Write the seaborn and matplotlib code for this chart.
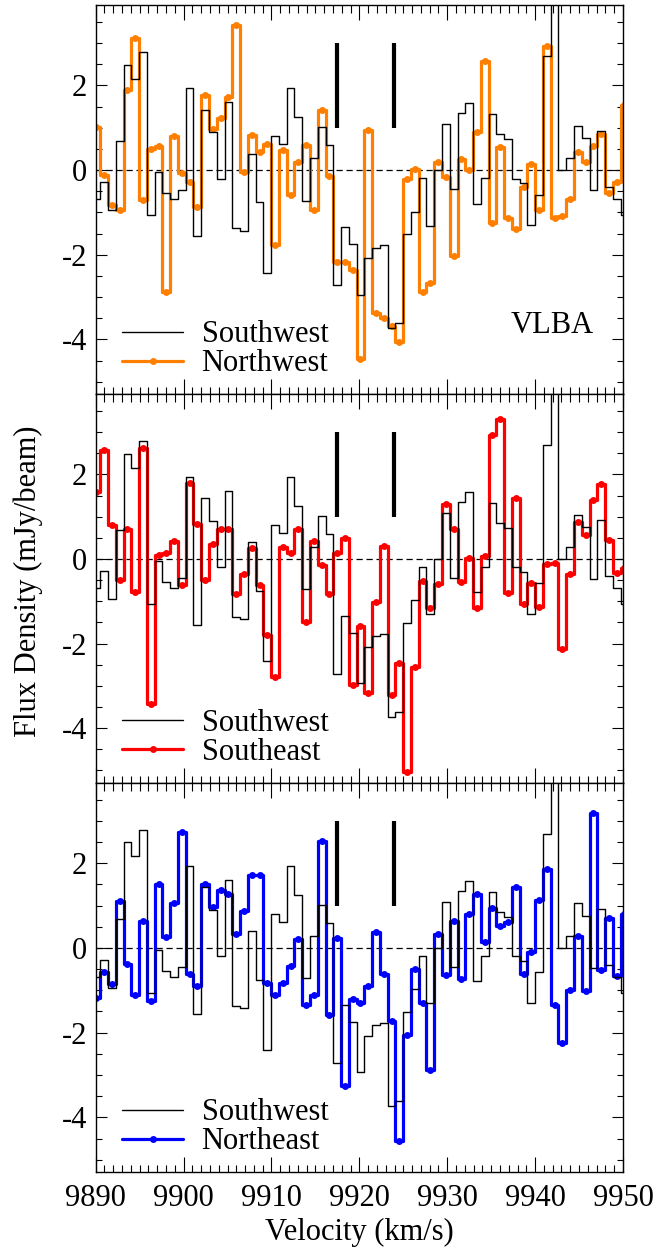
import numpy as np
import pandas as pd
import matplotlib
matplotlib.use("Agg")
import matplotlib.pyplot as plt
from matplotlib.lines import Line2D
from matplotlib.ticker import MultipleLocator
import seaborn as sns

sns.set_theme(style="ticks")
plt.rcParams['font.family'] = ['Liberation Serif', 'DejaVu Serif']
plt.rcParams['axes.unicode_minus'] = False
plt.rcParams['text.color'] = 'black'
plt.rcParams['axes.labelcolor'] = 'black'
plt.rcParams['xtick.color'] = 'black'
plt.rcParams['ytick.color'] = 'black'
plt.rcParams['axes.edgecolor'] = 'black'

# channel velocities (km/s)
velocity = [9890.08, 9890.96, 9891.85, 9892.73, 9893.61, 9894.50, 9895.38, 9896.27, 9897.15, 9898.03,
            9898.92, 9899.80, 9900.68, 9901.57, 9902.45, 9903.34, 9904.22, 9905.10, 9905.99, 9906.87,
            9907.75, 9908.64, 9909.52, 9910.41, 9911.29, 9912.17, 9913.06, 9913.94, 9914.82, 9915.71,
            9916.59, 9917.47, 9918.36, 9919.24, 9920.13, 9921.01, 9921.89, 9922.78, 9923.66, 9924.54,
            9925.43, 9926.31, 9927.20, 9928.08, 9928.96, 9929.85, 9930.73, 9931.61, 9932.50, 9933.38,
            9934.27, 9935.15, 9936.03, 9936.92, 9937.80, 9938.68, 9939.57, 9940.45, 9941.33, 9942.22,
            9943.10, 9943.99, 9944.87, 9945.75, 9946.64, 9947.52, 9948.40, 9949.29, 9950.17]

southwest = [-0.69, -0.29, -0.95, 0.69, 2.49, 2.16, 2.79, -1.06, -0.05, -0.54,
             -0.68, -0.46, 1.94, -1.55, 1.43, 0.90, -0.20, 1.60, -1.38, -1.43,
             0.39, -0.75, -2.42, 0.80, 0.61, 1.94, 1.26, -0.72, 0.28, 1.02,
             0.59, -2.72, -1.35, -1.74, -2.94, -2.08, -1.83, -1.78, -3.73, -3.61,
             -1.51, -0.98, -0.19, -1.31, 0.00, 1.09, -0.45, 1.35, 1.59, -0.79,
             -0.18, 1.32, 0.85, 0.73, -0.20, -0.31, -1.30, -0.58, 2.69, 4.80,
             0.00, 0.29, 1.05, 0.75, -0.48, 0.93, -0.40, -0.69, -1.07]

northwest = [1.01, -0.11, -0.83, -0.95, 1.90, 3.13, -0.70, 0.50, 0.58, -2.88,
             0.80, -0.07, -0.27, -0.87, 1.78, 0.97, 1.23, 1.72, 3.43, -0.05,
             0.82, 0.42, 0.61, -1.76, 0.48, -0.58, 0.20, 0.60, -0.95, 1.43,
             -0.13, -2.17, -2.17, -2.35, -4.46, 0.95, -3.38, -3.50, -3.68, -4.05,
             -0.21, 0.02, -2.87, -2.67, 0.20, -0.17, -2.02, 0.27, 0.01, 0.91,
             2.58, -1.24, 0.54, -1.13, -1.39, -0.40, 0.14, -0.95, 2.92, -1.13,
             -1.08, -0.69, 0.43, 0.19, 0.58, 0.86, -0.54, -0.28, 1.54]

southeast = [1.58, 2.57, 0.81, -0.50, 0.70, -0.78, 2.62, -3.42, 0.09, 0.14,
             0.43, -0.61, 1.80, 0.83, -0.50, 0.35, 0.70, 0.70, -0.82, -0.35,
             0.27, -0.62, -1.80, -2.80, 0.28, 0.15, 0.70, -1.50, 0.43, -0.15,
             -0.84, 0.13, 0.50, -2.97, -1.59, -3.18, -1.02, 0.30, -3.22, -2.47,
             -5.03, -2.55, -0.53, -1.16, -0.60, 1.31, 0.72, -0.54, 0.02, -1.17,
             0.06, 2.94, 3.31, -0.80, 1.43, -1.06, -0.57, -1.13, -0.11, -0.09,
             -2.12, -0.35, 0.87, 0.56, 1.40, 1.78, 0.44, -0.33, -0.21]

northeast = [-1.18, -0.58, -0.86, 1.10, -0.39, -1.12, 0.64, -1.26, 1.52, 0.26,
             1.07, 2.74, -0.61, -0.90, 1.52, 0.97, 1.36, 1.28, 0.32, 0.87,
             1.72, 1.73, -0.84, -1.10, -0.84, -0.43, 0.20, -1.34, -1.12, 2.52,
             -1.59, 0.24, -3.27, -1.20, -1.30, -0.90, 0.38, -0.62, -1.72, -4.57,
             -2.06, -0.50, -1.31, -2.89, 0.34, -0.65, 0.63, -0.74, 0.79, 1.28,
             0.14, 0.94, 0.51, 0.61, 1.44, -0.61, -0.09, 1.14, 1.87, -1.35,
             -2.24, -1.00, 0.28, -1.02, 3.19, -0.53, 0.71, -0.67, 0.79]

marker_velocities = [9917.47, 9923.90]
marker_range = [1.0, 3.0]
xtick_values = [9890, 9900, 9910, 9920, 9930, 9940, 9950]
ytick_values = [-4, -2, 0, 2]
panel_names = ["Northwest", "Southeast", "Northeast"]
panel_colors = ["#FF7F00", "#FF0000", "#0000FF"]
panel_series = [northwest, southeast, northeast]

W_PX, H_PX = 672, 1251
fig = plt.figure(figsize=(W_PX / 100, H_PX / 100), dpi=100)
left_px, right_px = 95.7, 623.0
edges = [5.0, 394.0, 782.7, 1172.0]
FS = 22

sw_df = pd.DataFrame({"velocity": velocity, "flux": southwest})
for i, (name, color, series) in enumerate(zip(panel_names, panel_colors, panel_series)):
    top, bot = edges[i], edges[i + 1]
    ax = fig.add_axes([left_px / W_PX, 1 - bot / H_PX, (right_px - left_px) / W_PX, (bot - top) / H_PX])
    df = pd.DataFrame({"velocity": velocity, "flux": series})
    ax.axhline(0, color="black", lw=0.9, dashes=(5, 3), zorder=1)
    sns.lineplot(data=df, x="velocity", y="flux", ax=ax, color=color, lw=2.3,
                 drawstyle="steps-mid", marker="o", markersize=5, markeredgewidth=0,
                 estimator=None, sort=False, legend=False, zorder=2)
    sns.lineplot(data=sw_df, x="velocity", y="flux", ax=ax, color="black", lw=1.0,
                 drawstyle="steps-mid", estimator=None, sort=False, legend=False, zorder=3)
    ax.vlines(marker_velocities, marker_range[0], marker_range[1], color="black", lw=3.0, zorder=4)

    ax.set_xlim(9890, 9950)
    ax.set_ylim(-5.29, 3.9)
    ax.set_xticks(xtick_values)
    ax.xaxis.set_minor_locator(MultipleLocator(1))
    ax.set_yticks(ytick_values)
    ax.yaxis.set_minor_locator(MultipleLocator(0.5))
    ax.tick_params(axis="both", which="both", direction="in", top=True, right=True,
                   width=0.8, color="black", labelcolor="black", labelsize=FS)
    ax.tick_params(axis="x", which="major", length=10.8, pad=9)
    ax.tick_params(axis="x", which="minor", length=5.4)
    ax.tick_params(axis="y", which="major", length=8, pad=6)
    ax.tick_params(axis="y", which="minor", length=4)
    for sp in ax.spines.values():
        sp.set_linewidth(1.0)
        sp.set_color("black")
    ax.set_ylabel("")
    ax.set_xlabel("")
    if i < 2:
        ax.tick_params(labelbottom=False)
    else:
        ax.set_xlabel("Velocity (km/s)", fontsize=FS, labelpad=3, color="black")

    handles = [Line2D([], [], color="black", lw=1.0),
               Line2D([], [], color=color, lw=2.3, marker="o", markersize=5, markeredgewidth=0)]
    leg = ax.legend(handles, ["Southwest", name], loc="lower left", bbox_to_anchor=(0.050, 0.040),
                    frameon=False, fontsize=FS, borderpad=0, borderaxespad=0,
                    handlelength=2.0, handletextpad=0.6, labelspacing=0.0)
    for t in leg.get_texts():
        t.set_color("black")
    if i == 0:
        ax.text(0.945, 0.177, "VLBA", transform=ax.transAxes, ha="right", va="center",
                fontsize=FS, color="black")

fig.text(28.5 / W_PX, 1 - 581.5 / H_PX, "Flux Density (mJy/beam)", rotation=90,
         ha="center", va="center", fontsize=FS, color="black")

fig.savefig("out.png", dpi=100)
